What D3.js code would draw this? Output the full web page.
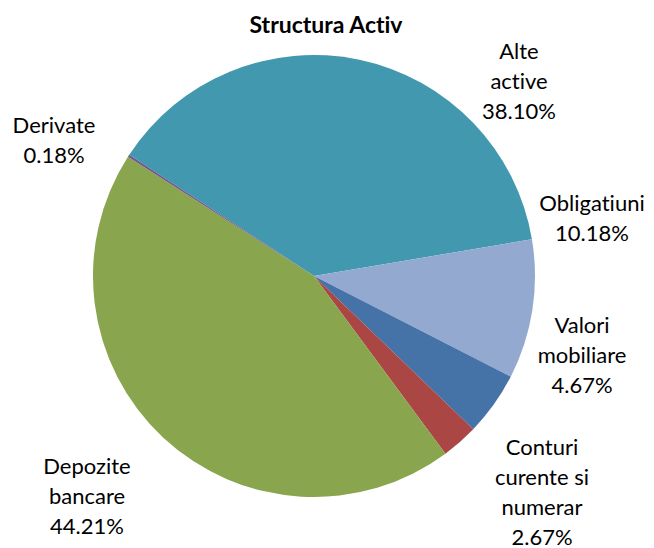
<!DOCTYPE html>
<html>
<head>
<meta charset="utf-8">
<script src="https://cdn.jsdelivr.net/npm/d3@7"></script>
<style>
  body { margin: 0; background: #fff; }
  text { font-family: Lato, "Open Sans", sans-serif; fill: #000; font-variant-ligatures: none; font-feature-settings: "liga" 0, "clig" 0; }
</style>
</head>
<body>
<div id="chart"></div>
<script>
// data
const categories = ["Alte active", "Obligatiuni", "Valori mobiliare", "Conturi curente si numerar", "Depozite bancare", "Derivate"];
const shares = [38.10, 10.18, 4.67, 2.67, 44.21, 0.18];
const labelLines = [
  ["Alte", "active"],
  ["Obligatiuni"],
  ["Valori", "mobiliare"],
  ["Conturi", "curente si", "numerar"],
  ["Depozite", "bancare"],
  ["Derivate"]
];
const colors = ["#4198AF", "#93A9CF", "#4572A7", "#AA4643", "#89A54E", "#71588F"];

const width = 654, height = 548;
const cx = 314, cy = 276, radius = 221;
const lineHeight = 30;
// label anchors (centre x, first baseline y) relative to the pie centre
const labelAnchors = [[205, -217], [278, -65], [268, 57], [228, 179], [-227, 198], [-260, -143]];

const svg = d3.select("#chart")
  .append("svg")
  .attr("width", width)
  .attr("height", height);

svg.append("text")
  .attr("x", 326)
  .attr("y", 33)
  .attr("text-anchor", "middle")
  .style("font-weight", "bold")
  .style("font-size", "23px")
  .text("Structura Activ");

const data = categories.map((c, i) => ({ name: c, value: shares[i], lines: labelLines[i] }));

const startAngle = -56.7 * Math.PI / 180;
const pie = d3.pie()
  .sort(null)
  .value(d => d.value)
  .startAngle(startAngle)
  .endAngle(startAngle + 2 * Math.PI);

const arc = d3.arc().innerRadius(0).outerRadius(radius);

const g = svg.append("g")
  .attr("transform", `translate(${cx},${cy})`);

g.selectAll(".slice")
  .data(pie(data))
  .enter().append("path")
  .attr("class", "slice")
  .attr("d", arc)
  .style("fill", (d, i) => colors[i]);

const labels = g.selectAll(".label")
  .data(data)
  .enter().append("text")
  .attr("class", "label")
  .attr("text-anchor", "middle")
  .style("font-size", "22px")
  .attr("transform", (d, i) => `translate(${labelAnchors[i][0]},${labelAnchors[i][1]})`);

labels.each(function(d) {
  const t = d3.select(this);
  const lines = d.lines.concat([d3.format(".2f")(d.value) + "%"]);
  lines.forEach((l, j) => {
    t.append("tspan")
      .attr("x", 0)
      .attr("y", j * lineHeight)
      .text(l);
  });
});
</script>
</body>
</html>
